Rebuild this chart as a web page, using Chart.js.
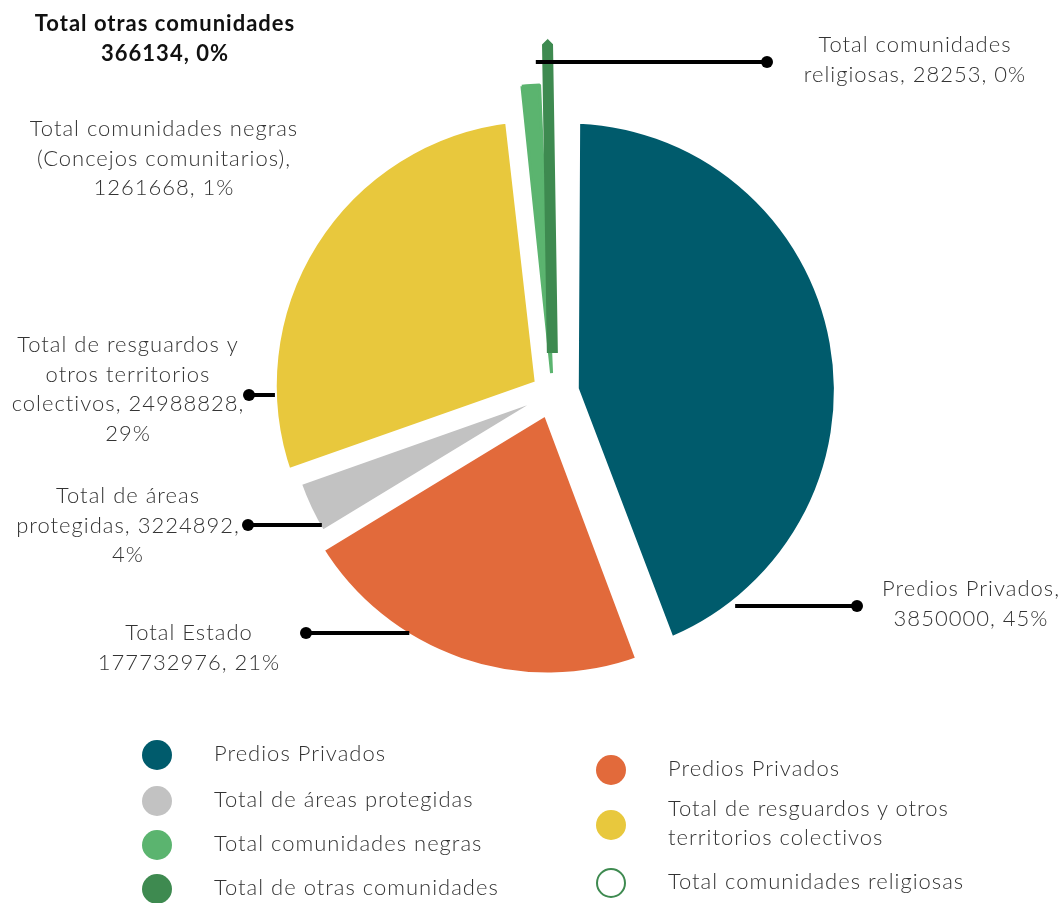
<!DOCTYPE html>
<html lang="es">
<head>
<meta charset="utf-8">
<title>Tenencia de la tierra</title>
<script src="https://cdn.jsdelivr.net/npm/chart.js@4.4.1/dist/chart.umd.min.js"></script>
<style>
  html, body { margin: 0; padding: 0; background: #fff; }
  #wrap { position: relative; width: 1063px; height: 903px; overflow: hidden;
          font-family: Lato, 'Open Sans', sans-serif; font-weight: 300; color: #333; }
  #pie { position: absolute; left: 0; top: 0; }
  .key { position: absolute; font-size: 22px; line-height: 29px; letter-spacing: 1px; transform: translateY(-50%); }
  .dot { position: absolute; width: 30px; height: 30px; border-radius: 50%; box-sizing: border-box; transform: translate(-50%, -50%); }
</style>
</head>
<body>
<div id="wrap">
  <canvas id="pie" width="1063" height="903"></canvas>
  <div id="legend"></div>
</div>
<script>
// slices, clockwise from 12 o'clock
const categories = ['Predios Privados', 'Total Estado', 'Total de áreas protegidas',
  'Total de resguardos y otros territorios colectivos', 'Total comunidades negras',
  'Total de otras comunidades', 'Total comunidades religiosas']
// share of the pie in %
const shares = [44.3, 22, 3.3, 28.6, 1.3, 0.5, 0]
const amounts = [3850000, 177732976, 3224892, 24988828, 1261668, 366134, 28253]
const pctText = ['45%', '21%', '4%', '29%', '1%', '0%', '0%']
// legend text as printed (the orange entry repeats "Predios Privados" in the original)
const legendNames = ['Predios Privados', 'Predios Privados', 'Total de áreas protegidas',
  'Total de resguardos y otros territorios colectivos', 'Total comunidades negras',
  'Total de otras comunidades', 'Total comunidades religiosas']
const colors = ['#005B6C', '#E26A3B', '#C2C2C2', '#E8C83D', '#5BB46F', '#3E8A50', '#3E8A50']

// callout texts
const calloutLines = [
  ['Predios Privados,', `${amounts[0]}, ${pctText[0]}`],
  ['Total Estado', `${amounts[1]}, ${pctText[1]}`],
  ['Total de áreas', `protegidas, ${amounts[2]},`, pctText[2]],
  ['Total de resguardos y', 'otros territorios', `colectivos, ${amounts[3]},`, pctText[3]],
  ['Total comunidades negras', '(Concejos comunitarios),', `${amounts[4]}, ${pctText[4]}`],
  ['Total otras comunidades', `${amounts[5]}, ${pctText[5]}`],
  ['Total comunidades', `religiosas, ${amounts[6]}, ${pctText[6]}`]
]

// layout
const calloutPos = [
  {x: 971, y: 589}, {x: 189, y: 633}, {x: 128, y: 496}, {x: 128, y: 345},
  {x: 164, y: 129}, {x: 165, y: 24, bold: true}, {x: 915, y: 45}
]
const leaders = [
  {i: 0, frac: 0.89, inset: 6, dotX: 857},
  {i: 1, frac: 0.658, inset: 6, dotX: 306},
  {i: 2, frac: 0.14, inset: 4, dotX: 248},
  {i: 3, frac: 0.17, inset: 4, dotX: 249},
  {i: 5, frac: 0.5, inset: 18, dotX: 767, startShift: -12}
]
const legendSlots = [
  {i: 0, x: 157, y: 755}, {i: 2, x: 157, y: 801}, {i: 4, x: 157, y: 845}, {i: 5, x: 157, y: 889},
  {i: 1, x: 611, y: 770}, {i: 3, x: 611, y: 825, width: 300}, {i: 6, x: 611, y: 883, hollow: true}
]

const callouts = {
  id: 'callouts',
  afterDatasetsDraw(chart) {
    const ctx = chart.ctx
    const meta = chart.getDatasetMeta(0)
    ctx.save()
    leaders.forEach(l => {
      const el = meta.data[l.i]
      const {x, y, startAngle, endAngle, outerRadius, circumference} =
        el.getProps(['x', 'y', 'startAngle', 'endAngle', 'outerRadius', 'circumference'], true)
      const shift = (el.options.offset || 0) / 4
      const fix = 1 - Math.sin(Math.min(Math.PI, circumference))
      const mid = (startAngle + endAngle) / 2
      const a = startAngle + l.frac * (endAngle - startAngle)
      const r = outerRadius + shift * fix - l.inset
      const ax = x + shift * Math.cos(mid) + r * Math.cos(a) + (l.startShift || 0)
      const ay = Math.round(y + shift * Math.sin(mid) + r * Math.sin(a))
      ctx.strokeStyle = '#000'
      ctx.lineWidth = 4
      ctx.beginPath()
      ctx.moveTo(ax, ay)
      ctx.lineTo(l.dotX, ay)
      ctx.stroke()
      ctx.fillStyle = '#000'
      ctx.beginPath()
      ctx.arc(l.dotX, ay, 6, 0, Math.PI * 2)
      ctx.fill()
    })

    ctx.textAlign = 'center'
    ctx.textBaseline = 'middle'
    ctx.letterSpacing = '1px'
    calloutLines.forEach((lines, i) => {
      const p = calloutPos[i]
      ctx.font = p.bold ? '700 22px Lato' : '300 22px Lato'
      ctx.fillStyle = p.bold ? '#111' : '#333'
      lines.forEach((t, k) => ctx.fillText(t, p.x, p.y + k * 29.5))
    })
    ctx.restore()
  }
}

new Chart(document.getElementById('pie'), {
  type: 'pie',
  data: {
    labels: categories,
    datasets: [{
      data: shares,
      backgroundColor: colors,
      borderColor: ['#fff', '#fff', '#fff', '#fff', colors[4], colors[5], '#fff'],
      borderWidth: [24, 12, 6, 12, 3, 11, 0],
      offset: [56, 64, 0, 56, 80, 160, 0],
      radius: 270
    }]
  },
  options: {
    responsive: false,
    animation: false,
    events: [],
    layout: {padding: {left: 43, right: 0, top: 0, bottom: 117}},
    plugins: {legend: {display: false}, tooltip: {enabled: false}}
  },
  plugins: [callouts]
})

// two column legend
const legend = document.getElementById('legend')
legendSlots.forEach(s => {
  const dot = document.createElement('div')
  dot.className = 'dot'
  dot.style.left = s.x + 'px'
  dot.style.top = s.y + 'px'
  if (s.hollow) {
    dot.style.background = '#fff'
    dot.style.border = '2.5px solid ' + colors[s.i]
  } else {
    dot.style.background = colors[s.i]
  }
  legend.appendChild(dot)
  const key = document.createElement('div')
  key.className = 'key'
  key.style.left = (s.x + 57) + 'px'
  key.style.top = (s.y - 3) + 'px'
  if (s.width) key.style.width = s.width + 'px'
  key.textContent = legendNames[s.i]
  legend.appendChild(key)
})
</script>
</body>
</html>
